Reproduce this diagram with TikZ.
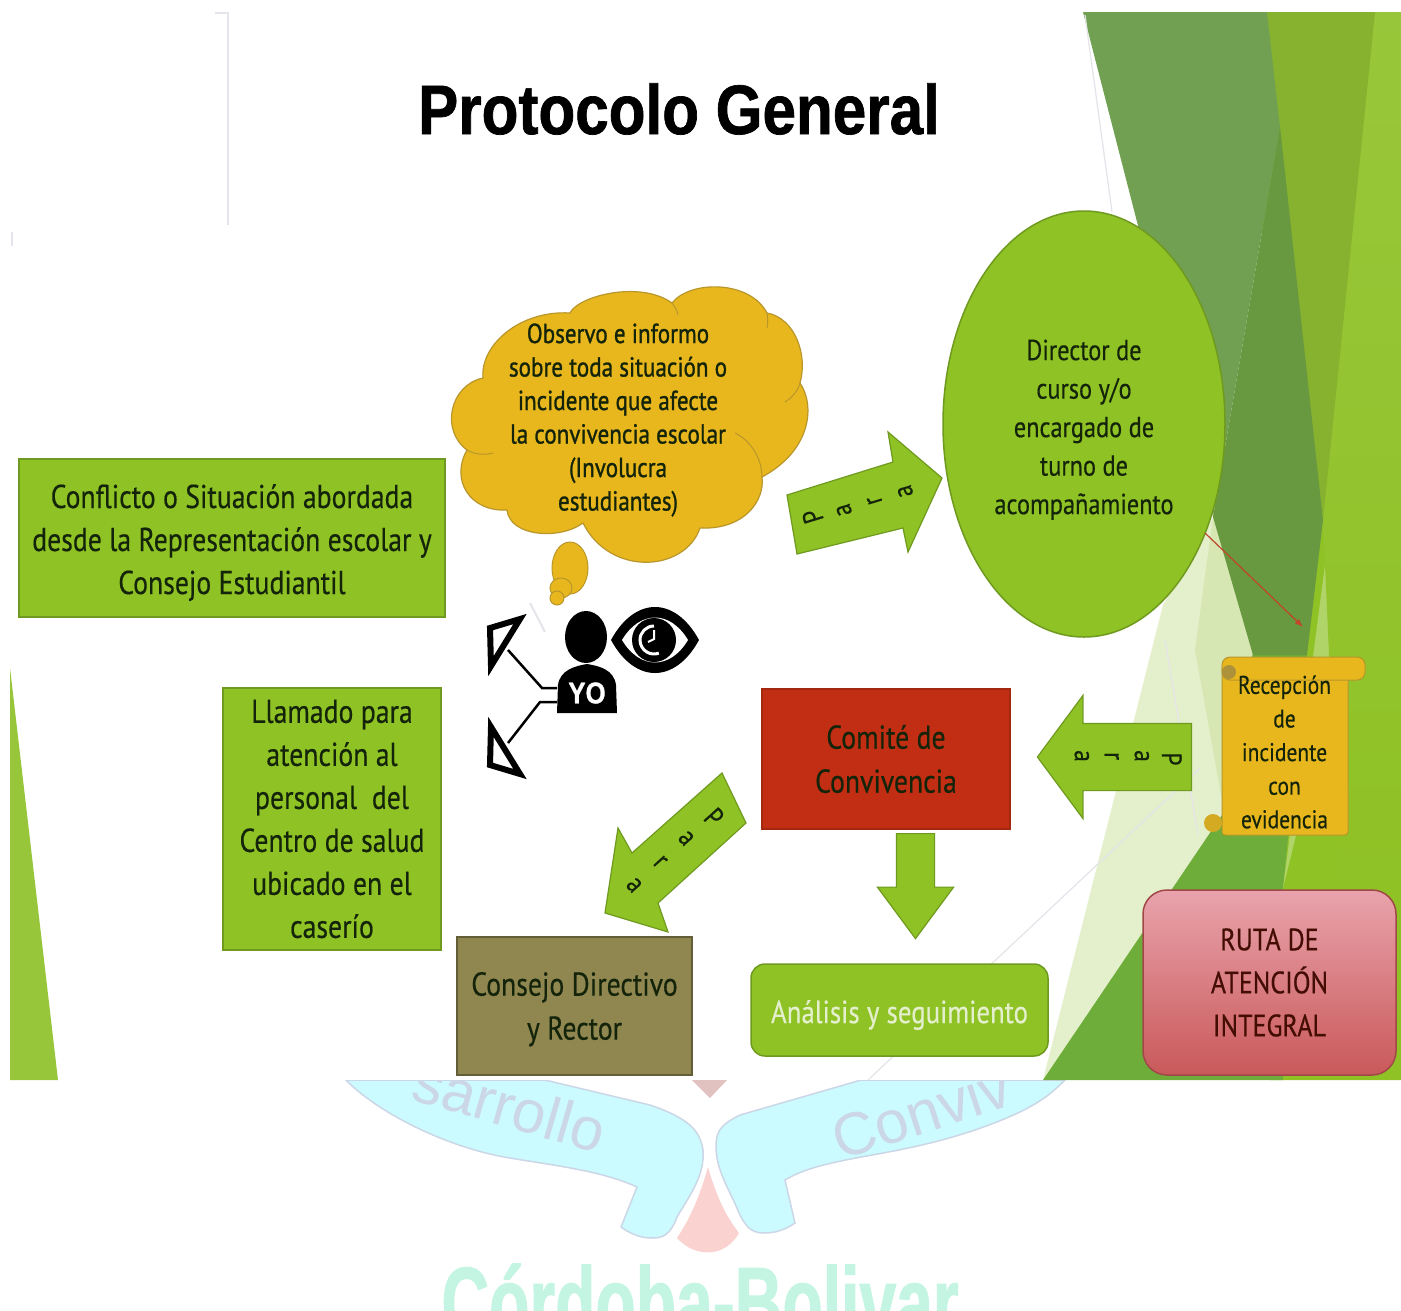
\documentclass[tikz,border=0pt]{standalone}
\usepackage{fontspec}
\setmainfont[FakeStretch=0.84,FakeBold=0.4]{PT Sans}
\newfontfamily\nubefont[FakeStretch=0.84,FakeBold=1]{PT Sans}
\newfontfamily\titlefont[FakeStretch=0.86,FakeBold=1]{Liberation Sans}
\newfontfamily\townfont[FakeStretch=0.66,FakeBold=1]{Liberation Sans}
\newfontfamily\markfont{Liberation Sans}
\usetikzlibrary{arrows.meta,shapes.arrows,shapes.geometric}

\definecolor{leaf}{HTML}{8FC225}
\definecolor{leafline}{HTML}{6F9A1F}
\definecolor{leaftop}{HTML}{98C63A}
\definecolor{leafmid}{HTML}{86B22F}
\definecolor{leafgrey}{HTML}{72A052}
\definecolor{leafdark}{HTML}{68983F}
\definecolor{leaflow}{HTML}{6FAD3A}
\definecolor{leafsliver}{HTML}{B0D468}
\definecolor{paleone}{HTML}{E4EFCB}
\definecolor{paletwo}{HTML}{D6E7B4}
\definecolor{amber}{HTML}{E8B71E}
\definecolor{amberline}{HTML}{B8962A}
\definecolor{inktext}{HTML}{14240A}
\definecolor{fadeline}{HTML}{E4E4EA}
\definecolor{ribbon}{HTML}{CCFBFF}
\definecolor{ribbonline}{HTML}{CBD6E6}
\definecolor{dropfill}{HTML}{FAD2D0}
\definecolor{mintword}{HTML}{C4F5E2}
\definecolor{comitefill}{HTML}{C12E13}
\definecolor{consejofill}{HTML}{8F8650}
\definecolor{rutatop}{HTML}{E9A3AC}
\definecolor{rutabottom}{HTML}{C9595A}
\definecolor{redarrow}{HTML}{C0452B}

\newcommand{\paraletter}[2]{\makebox[#1]{\raisebox{-8pt}{\rotatebox[origin=c]{90}{#2}}}}
\newcommand{\paraword}[1][30pt]{\paraletter{#1}{P}\paraletter{#1}{a}\paraletter{#1}{r}\paraletter{#1}{a}}
\newcommand{\topgap}[1]{\rule{0pt}{#1}}

\tikzset{
  greenbox/.style={draw=leafline, line width=1.5pt, fill=leaf, text=inktext, align=center, inner sep=0pt, font=\fontsize{33}{43}\selectfont},
  paraarrow/.style={single arrow, draw=leafline, line width=1.2pt, fill=leaf, text=inktext, inner sep=0pt, anchor=tail, font=\fontsize{28}{28}\selectfont},
  arrowshape/.style={draw=leafline, line width=1.2pt, fill=leaf},
  paratext/.style={text=inktext, inner sep=0pt, font=\fontsize{28}{28}\selectfont},
  fadestroke/.style={draw=fadeline, line width=1.2pt},
  puff/.style={fill=amber, draw=amberline, line width=1pt}
}

\begin{document}
\begin{tikzpicture}[x=1pt, y=-1pt, >=Latex]

  \useasboundingbox (0,0) rectangle (1401,1310);
  \clip (0,0) rectangle (1401,1310);

  % watermark under the slide
  \filldraw[ribbon, draw=ribbonline, line width=1.5pt] (346,1080) .. controls (375,1110) and (440,1145) .. (504,1157) .. controls (550,1165) and (600,1170) .. (637,1187) -- (621,1227) .. controls (632,1235) and (642,1238) .. (652,1238) .. controls (662,1238) and (670,1236) .. (677,1217) .. controls (690,1195) and (705,1175) .. (703,1150) .. controls (700,1130) and (688,1118) .. (650,1105) -- (545,1080) -- cycle;
  \filldraw[ribbon, draw=ribbonline, line width=1.5pt] (1065,1080) .. controls (1050,1095) and (1040,1102) .. (1020,1112) .. controls (960,1140) and (900,1150) .. (861,1157) .. controls (830,1163) and (805,1168) .. (785,1180) -- (795,1223) .. controls (785,1230) and (775,1233) .. (764,1233) .. controls (750,1233) and (745,1225) .. (739,1213) .. controls (730,1190) and (715,1170) .. (716,1143) .. controls (717,1130) and (722,1124) .. (740,1115) -- (861,1080) -- cycle;
  \fill[dropfill] (708,1167) .. controls (716,1195) and (725,1215) .. (739,1233) .. controls (725,1258) and (695,1258) .. (677,1238) .. controls (692,1215) and (700,1195) .. (708,1167) -- cycle;
  \fill[dropfill!80!gray] (692,1080) -- (727,1080) -- (710,1098) -- cycle;
  \node[text=ribbonline, rotate=-16, font=\markfont\fontsize{60}{60}\selectfont] (wordleft) at (510,1106) {sarrollo};
  \node[text=ribbonline, rotate=18, font=\markfont\fontsize{60}{60}\selectfont] (wordright) at (921,1112) {Conviv};
  \node[text=mintword, anchor=base, font=\townfont\bfseries\fontsize{100}{100}\selectfont] (wordtown) at (700,1337) {Córdoba-Bolivar};

  % slide
  \fill[white] (10,12) rectangle (1401,1080);
  \draw[fadestroke] (215,13) -- (228,13) -- (228,225);
  \draw[fadestroke, line width=2pt] (12,232) -- (12,246);
  \draw[fadestroke, line width=2pt] (530,603) -- (545,632);

  \fill[leaftop] (10,668) -- (58,1080) -- (10,1080) -- cycle;

  \fill[leaf] (1267,12) -- (1401,12) -- (1401,1080) -- (1270,1080) -- (1253,652) -- cycle;
  \fill[paleone] (1163,605) -- (1213,517) -- (1253,652) -- (1222,815) -- (1043,1080) -- cycle;
  \fill[paletwo] (1213,517) -- (1253,652) -- (1222,800) -- (1195,650) -- cycle;
  \fill[leaflow] (1043,1080) -- (1222,815) -- (1253,652) -- (1307,652) -- (1283,888) -- (1283,1080) -- cycle;
  \fill[leafsliver] (1327,549) -- (1342,650) -- (1283,888) -- cycle;
  \shade[top color=leaftop, bottom color=leaf] (1375,12) -- (1401,12) -- (1401,900) -- (1340,900) -- (1323,520) -- cycle;
  \fill[leafmid] (1267,12) -- (1375,12) -- (1323,520) -- cycle;
  \fill[leafgrey] (1083,12) -- (1267,12) -- (1280,127) -- (1213,517) -- cycle;
  \fill[leafdark] (1280,127) -- (1323,520) -- (1307,655) -- (1253,655) -- (1213,517) -- cycle;
  \draw[fadestroke] (1085,15) -- (1112,212);
  \draw[fadestroke] (1200,768) -- (868,1080);
  \draw[fadestroke] (1165,640) -- (1198,835);

  \node[font=\titlefont\bfseries\fontsize{70}{70}\selectfont] (title) at (679,109) {Protocolo General};

  % left boxes
  \node[greenbox, minimum width=426pt, minimum height=158pt] (conflicto) at (232,538) {\topgap{33pt}Conflicto o Situación abordada\\desde la Representación escolar y\\Consejo Estudiantil};
  \node[greenbox, minimum width=218pt, minimum height=262pt] (llamado) at (332,819) {Llamado para\\atención al\\personal~ del\\Centro de salud\\ubicado en el\\caserío};

  % thought cloud
  \filldraw[puff, line width=1.2pt] (570,313) .. controls (578,296) and (640,280) .. (672,303) .. controls (690,280) and (750,280) .. (767,313) .. controls (795,318) and (808,355) .. (800,383) .. controls (815,405) and (812,450) .. (762,477) .. controls (765,500) and (745,530) .. (700,528) .. controls (685,572) and (610,577) .. (583,523) .. controls (560,540) and (510,537) .. (507,510) .. controls (470,512) and (450,480) .. (467,450) .. controls (440,430) and (450,385) .. (483,378) .. controls (480,345) and (520,310) .. (570,313) -- cycle;
  \draw[amberline, line width=1pt] (467,450) .. controls (475,455) and (485,455) .. (493,453);
  \draw[amberline, line width=1pt] (735,433) .. controls (750,440) and (762,458) .. (762,477);
  \draw[amberline, line width=1pt] (800,383) .. controls (798,390) and (793,397) .. (785,402);
  \draw[amberline, line width=1pt] (767,313) .. controls (768,318) and (768,322) .. (767,328);
  \draw[amberline, line width=1pt] (672,303) .. controls (675,307) and (677,310) .. (678,315);
  \node[text=inktext, align=center, font=\nubefont\fontsize{27.5}{33.5}\selectfont] (nube) at (618,420) {Observo e informo\\sobre toda situación o\\incidente que afecte\\la convivencia escolar\\(Involucra\\estudiantes)};
  \filldraw[puff] (570,568) ellipse [x radius=18pt, y radius=26pt];
  \filldraw[puff] (561,588) ellipse [x radius=11pt, y radius=10pt];
  \filldraw[puff] (557,598) ellipse [x radius=7pt, y radius=7pt];

  % person with eye
  \fill[black] (586,637) ellipse [x radius=21pt, y radius=26pt];
  \fill[black] (557,713) -- (558,685) .. controls (560,670) and (575,666) .. (587,664) .. controls (600,666) and (614,670) .. (616,685) -- (617,713) -- cycle;
  \node[text=white, font=\titlefont\bfseries\fontsize{30}{30}\selectfont] (yo) at (587,693) {YO};
  \coordinate (youp) at (557,688);
  \coordinate (yodown) at (557,702);
  \draw[line width=2.5pt] (youp) -- (542,688) -- (508,650);
  \draw[line width=2.5pt] (yodown) -- (540,702) -- (508,743);
  \draw[line width=6pt, fill=white, line join=miter] (490,628) -- (520,619) -- (491,666) -- cycle;
  \draw[line width=6pt, fill=white, line join=miter] (491,727) -- (490,765) -- (520,774) -- cycle;
  \fill[black] (611,640) .. controls (635,596) and (675,596) .. (699,640) .. controls (675,684) and (635,684) .. (611,640) -- cycle;
  \fill[white] (622,640) .. controls (640,610) and (670,610) .. (688,640) .. controls (670,670) and (640,670) .. (622,640) -- cycle;
  \fill[black] (654,640) circle [radius=22pt];
  \draw[white, line width=3pt] (654,626) arc (90:290:14pt);
  \draw[white, line width=2pt] (654,630) -- (654,639) -- (648,642);

  % big arrows
  \draw[arrowshape] (787,495) -- (893,462) -- (888,432) -- (942,478) -- (908,552) -- (903,528) -- (797,554) -- cycle;
  \node[paratext, rotate=17] (paraone) at (859,504) {\paraword[32pt]};
  \node[paraarrow, rotate=180, text height=33pt, text depth=33pt, minimum height=154pt, single arrow head extend=28pt, single arrow tip angle=107] (paratwo) at (1192,757) {\paraword};
  \draw[arrowshape] (722,773) -- (632,853) -- (618,828) -- (605,913) -- (668,932) -- (658,903) -- (746,823) -- cycle;
  \node[paratext, rotate=222] (parathree) at (674,851) {\paraword[35pt]};
  \node[paraarrow, rotate=-90, text height=18.5pt, text depth=18.5pt, minimum height=105pt, single arrow head extend=19pt, single arrow tip angle=73] (bajada) at (915.5,833) {};

  % right side
  \node[ellipse, draw=leafline, line width=1.5pt, fill=leaf, text=inktext, align=center, inner sep=0pt, minimum width=282pt, minimum height=426pt, font=\fontsize{29}{38.5}\selectfont] (director) at (1084,424) {\topgap{32pt}Director de\\curso y/o\\encargado de\\turno de\\acompañamiento};
  \node[draw=comitefill!85!black, line width=1.5pt, fill=comitefill, minimum width=248pt, minimum height=140pt, text=inktext, align=center, inner sep=0pt, font=\fontsize{33}{44}\selectfont] (comite) at (886,759) {Comité de\\Convivencia};
  \node[draw=consejofill!70!black, line width=2pt, fill=consejofill, minimum width=235pt, minimum height=138pt, text=inktext, align=center, inner sep=0pt, font=\fontsize{33}{44}\selectfont] (consejo) at (574.5,1006) {\topgap{30pt}Consejo Directivo\\y Rector};
  \node[greenbox, rounded corners=14pt, text=paleone, minimum width=297pt, minimum height=92pt, font=\fontsize{32}{43}\selectfont] (analisis) at (899.5,1010) {\topgap{33pt}Análisis y seguimiento};
  \node[draw=rutabottom!80!black, line width=1.5pt, top color=rutatop, bottom color=rutabottom, rounded corners=24pt, minimum width=253pt, minimum height=185pt, text=inktext!60!red!60!black, align=center, inner sep=0pt, font=\fontsize{31}{43}\selectfont] (ruta) at (1269.5,982.5) {RUTA DE\\ATENCIÓN\\INTEGRAL};

  % scroll
  \filldraw[puff, rounded corners=3pt] (1222,665) -- (1348,665) -- (1348,835) -- (1222,835) -- cycle;
  \filldraw[puff, rounded corners=8pt] (1222,657) -- (1365,657) -- (1365,680) -- (1222,680) -- cycle;
  \fill[amberline!80!gray] (1229,672) circle [radius=7pt];
  \fill[amberline!40!amber] (1213,823) circle [radius=9pt];
  \node[text=inktext, align=center, font=\fontsize{25.6}{33.6}\selectfont] (recepcion) at (1284.5,752) {Recepción\\de\\incidente\\con\\evidencia};

  \coordinate (redstart) at (1205,533);
  \coordinate (redend) at (1303,627);
  \draw[redarrow, line width=1.2pt, ->] (redstart) -- (redend);

\end{tikzpicture}
\end{document}
